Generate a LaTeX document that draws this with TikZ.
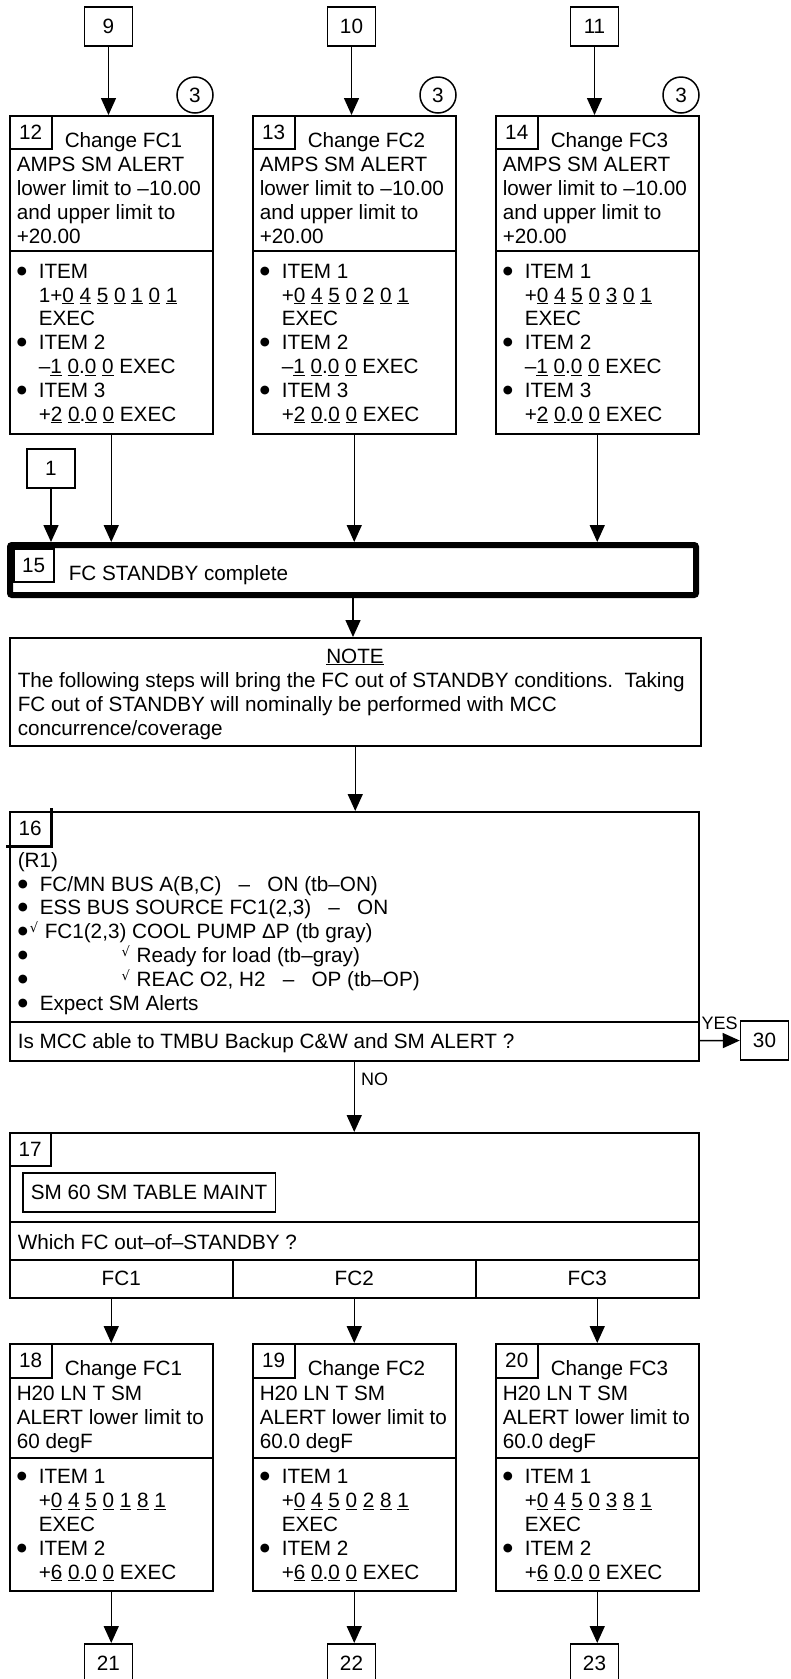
\documentclass[tikz,border=0pt]{standalone}
\usepackage{fontspec}
\setmainfont{Liberation Sans}
\newfontfamily\symf{DejaVu Sans}
\usetikzlibrary{arrows.meta}

\newcommand\dg[1]{\underline{#1}}
\newcommand\bul{\raisebox{.35ex}{\symf\fontsize{11.5}{11.5}\selectfont ●}}
\newcommand\bl{\makebox[22pt][l]{\bul}}
\newcommand\ind{\hspace*{22pt}}
\newcommand\chk{\makebox[15pt][l]{\raisebox{.55ex}{\symf\fontsize{13}{13}\selectfont √}}}

\begin{document}
\begin{tikzpicture}[x=1pt, y=-1pt, line width=1.5pt,
	every node/.style={font=\fontsize{20.7}{23.8}\selectfont},
	frame/.style={draw, anchor=north west, inner sep=0pt},
	tag/.style={draw, anchor=north west, inner sep=0pt, minimum width=42pt, minimum height=33pt},
	conn/.style={draw, inner sep=0pt, minimum width=48pt, minimum height=39pt},
	circ/.style={draw, circle, inner sep=0pt, minimum size=36pt},
	txt/.style={anchor=base west, align=left, inner sep=0pt},
	small/.style={inner sep=0pt, font=\fontsize{18}{18}\selectfont},
	flow/.style={-{Triangle[length=17pt, width=15pt]}}]
	\useasboundingbox (0,0) rectangle (790,1679);

	% steps 12-14 (text nodes sit on their last baseline)
	\foreach \n/\k/\x/\c/\p in {12/9/9/1/{ITEM\\\ind 1+}, 13/10/252/2/{ITEM 1\\\ind +}, 14/11/495/3/{ITEM 1\\\ind +}} {
		\node[conn] (k\k) at (\x+99.5,26.5) {\k};
		\node[frame, minimum width=203pt, minimum height=135pt] (u\n) at (\x,115) {};
		\node[frame, minimum width=203pt, minimum height=183pt] (l\n) at (\x,250) {};
		\node[tag] (g\n) at (\x,115) {\n};
		\node[circ] (r\n) at (\x+186,95) {3};
		\node[txt] (h\n) at (\x+55,147) {Change FC\c};
		\node[txt] (a\n) at (\x+7,243) {AMPS SM ALERT\\lower limit to –10.00\\and upper limit to\\+20.00};
		\node[txt] (i\n) at (\x+7,421) {\bl\p\dg0 \dg4 \dg5 \dg0 \dg\c\ \dg0 \dg1\\\ind EXEC\\\bl ITEM 2\\\ind–\dg1 \dg0.\dg0 \dg0 EXEC\\\bl ITEM 3\\\ind+\dg2 \dg0.\dg0 \dg0 EXEC};
		\draw[flow] (k\k) -- (k\k |- u\n.north);
	}

	% step 15
	\node[draw, line width=6pt, rounded corners=2pt, anchor=north west, inner sep=0pt, minimum width=686pt, minimum height=50pt] (b15) at (7,542) {};
	\node[tag, minimum width=40pt] (g15) at (13,548) {15};
	\node[txt] (s15) at (68,580) {FC STANDBY complete};
	\node[conn] (k1) at (51,468.5) {1};
	\draw[flow] (k1) -- (k1 |- b15.north);
	\foreach \n in {12,13,14} \draw[flow] (l\n) -- (l\n |- b15.north);

	% note
	\node[frame, minimum width=691pt, minimum height=108pt] (note) at (9,637) {};
	\node[inner sep=0pt, anchor=base] (nt) at (355,663) {\underline{NOTE}};
	\node[txt] (nb) at (17,735) {The following steps will bring the FC out of STANDBY conditions.\ \ Taking\\FC out of STANDBY will nominally be performed with MCC\\concurrence/coverage};
	\draw[flow] (b15) -- (b15 |- note.north);

	% step 16
	\node[frame, minimum width=689pt, minimum height=210pt] (q16) at (9,811) {};
	\node[frame, minimum width=689pt, minimum height=39pt] (d16) at (9,1021) {};
	\node[anchor=north west, inner sep=0pt, minimum width=41pt, minimum height=34pt] (g16) at (9,811) {16};
	\draw[line width=3.5pt] ([yshift=3pt]g16.north east) -- (g16.south east) -- ([xshift=-3pt]g16.south west);
	\draw[flow] (note) -- (note |- q16.north);
	\node[txt] (r16) at (17,1010) {(R1)\\
		\bl FC/MN BUS A(B,C) ~~–~~ ON (tb–ON)\\
		\bl ESS BUS SOURCE FC1(2,3) ~~–~~ ON\\
		\makebox[12pt][l]{\bul}\chk FC1(2,3) COOL PUMP ΔP (tb gray)\\
		\makebox[104pt][l]{\bul}\chk Ready for load (tb–gray)\\
		\makebox[104pt][l]{\bul}\chk REAC O2, H2 ~~–~~ OP (tb–OP)\\
		\bl Expect SM Alerts};
	\node[txt] (m16) at (17,1048) {Is MCC able to TMBU Backup C\&W and SM ALERT ?};
	\node[conn] (k30) at (764.5,1040.5) {30};
	\draw[flow] (d16) -- node[small, above=10pt] (yes) {YES} (k30);

	% step 17
	\node[frame, minimum width=689pt, minimum height=89pt] (b17) at (9,1132) {};
	\node[frame, minimum width=689pt, minimum height=38pt] (w17) at (9,1221) {};
	\node[frame, minimum width=223pt, minimum height=38pt] (f1) at (9,1259) {FC1};
	\node[frame, minimum width=243pt, minimum height=38pt] (f2) at (232,1259) {FC2};
	\node[frame, minimum width=223pt, minimum height=38pt] (f3) at (475,1259) {FC3};
	\node[tag, minimum width=41pt] (g17) at (9,1132) {17};
	\node[draw, anchor=north west, minimum height=39pt, inner xsep=8pt, inner ysep=0pt] (sm) at (22,1172) {SM 60 SM TABLE MAINT};
	\node[txt] (wq) at (17,1249) {Which FC out–of–STANDBY ?};
	\draw[flow] (d16) -- node[small, pos=0.25, anchor=west, xshift=6pt] (no) {NO} (d16 |- b17.north);

	% steps 18-20
	\foreach \n/\k/\x/\c/\v/\f in {18/21/9/1/60/f1, 19/22/252/2/60.0/f2, 20/23/495/3/60.0/f3} {
		\node[frame, minimum width=203pt, minimum height=114pt] (u\n) at (\x,1343) {};
		\node[frame, minimum width=203pt, minimum height=133pt] (l\n) at (\x,1457) {};
		\node[tag, minimum height=34pt] (g\n) at (\x,1343) {\n};
		\node[txt] (h\n) at (\x+55,1375) {Change FC\c};
		\node[txt] (a\n) at (\x+7,1448) {H20 LN T SM\\ALERT lower limit to\\\v\ degF};
		\node[txt] (i\n) at (\x+7,1579) {\bl ITEM 1\\\ind+\dg0 \dg4 \dg5 \dg0 \dg\c\ \dg8 \dg1\\\ind EXEC\\\bl ITEM 2\\\ind+\dg6 \dg0.\dg0 \dg0 EXEC};
		\node[conn, anchor=north] (k\k) at (\x+99.5,1643) {\k};
		\draw[flow] (u\n.north |- \f.south) -- (u\n.north);
		\draw[flow] (l\n) -- (l\n |- k\k.north);
	}
\end{tikzpicture}
\end{document}
